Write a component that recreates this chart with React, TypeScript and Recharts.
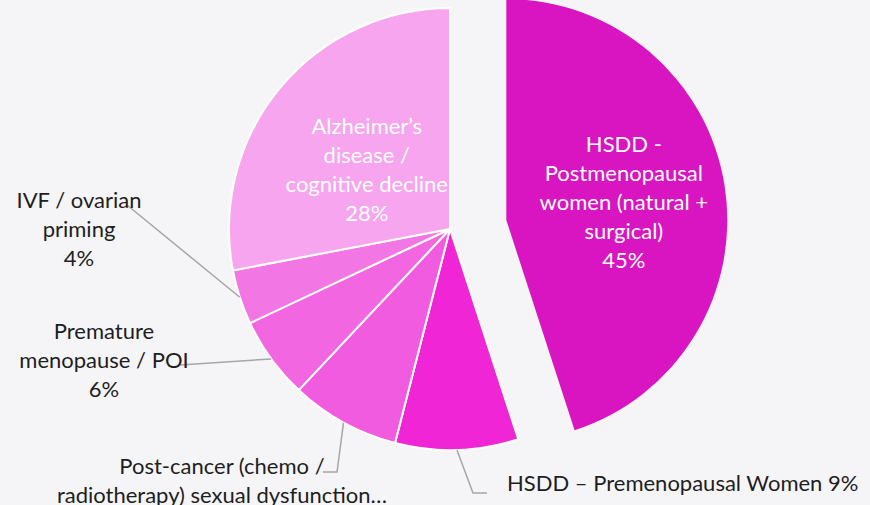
import { PieChart, Pie, Cell } from 'recharts';

const categories = [
  'HSDD - Postmenopausal women (natural + surgical)',
  'HSDD – Premenopausal Women',
  'Post-cancer (chemo / radiotherapy) sexual dysfunction…',
  'Premature menopause / POI',
  'IVF / ovarian priming',
  'Alzheimer’s disease / cognitive decline',
];
const shares = [45, 9, 8, 6, 4, 28];

// how each label wraps, as in the reference
const labelLines = [
  ['HSDD -', 'Postmenopausal', 'women (natural +', 'surgical)'],
  ['HSDD – Premenopausal Women'],
  ['Post-cancer (chemo /', 'radiotherapy) sexual dysfunction…'],
  ['Premature', 'menopause / POI'],
  ['IVF / ovarian', 'priming'],
  ['Alzheimer’s', 'disease /', 'cognitive decline'],
];

const COLORS = ['#D914C1', '#F025D6', '#F05BE0', '#F266E2', '#F277E5', '#F7A5EE'];
const BG = '#F5F5F8';
const FONT = 'Lato, "Open Sans", sans-serif';
const FONT_SIZE = 22;
const LINE_H = 29;
const RADIAN = Math.PI / 180;

const data = categories.map((name, i) => ({ name, value: shares[i] }));

const CX = 450;
const CY = 229;
const R = 221;
const EXPLODE = 57;

// exploded slice offset, along its bisector
const total = shares.reduce((a, b) => a + b, 0);
const firstMid = 90 - (shares[0] / total) * 180;
const offX = EXPLODE * Math.cos(firstMid * RADIAN);
const offY = -EXPLODE * Math.sin(firstMid * RADIAN);

// outside label placement, relative to the pie centre
const outside: Record<number, { pts: [number, number][]; tx: number; ty: number; anchor: 'start' | 'middle'; inline?: boolean }> = {
  1: { pts: [[23, 264], [37, 264]], tx: 57, ty: 253, anchor: 'start', inline: true },
  2: { pts: [[-113, 243], [-127, 243]], tx: -228, ty: 236, anchor: 'middle' },
  3: { pts: [[-270, 136]], tx: -346, ty: 101, anchor: 'middle' },
  4: { pts: [[-323, -24]], tx: -371, ty: -30, anchor: 'middle' },
};

const insideRadius: Record<number, number> = { 0: 119, 5: 108 };
const insideNudge: Record<number, number> = { 0: 0, 5: 9 };

function renderLabel(props: any) {
  const { cx, cy, midAngle, outerRadius, index, percent } = props;
  const pct = `${Math.round(percent * 100)}%`;
  const lines = labelLines[index];

  if (insideRadius[index] !== undefined) {
    const r = insideRadius[index];
    const x = cx + r * Math.cos(-midAngle * RADIAN);
    const all = [...lines, pct];
    const y = cy + r * Math.sin(-midAngle * RADIAN) + insideNudge[index] - ((all.length - 1) * LINE_H) / 2;
    return (
      <text key={`l${index}`} x={x} y={y} fill="#FFFFFF" textAnchor="middle" fontFamily={FONT} fontSize={FONT_SIZE}>
        {all.map((t, i) => (
          <tspan key={i} x={x} y={y + i * LINE_H} dominantBaseline="central">{t}</tspan>
        ))}
      </text>
    );
  }

  const cfg = outside[index];
  if (!cfg) return null;
  const sx = cx + outerRadius * Math.cos(-midAngle * RADIAN);
  const sy = cy + outerRadius * Math.sin(-midAngle * RADIAN);
  const d = `M${sx},${sy}` + cfg.pts.map(([px, py]) => `L${cx + px},${cy + py}`).join('');
  const all = cfg.inline ? [`${lines[0]} ${pct}`] : [...lines, pct];
  const tx = cx + cfg.tx;
  const ty = cy + cfg.ty;
  return (
    <g key={`l${index}`}>
      <path d={d} stroke="#A6A6A6" strokeWidth={1.5} fill="none" />
      <text x={tx} y={ty} fill="#1E1E1E" textAnchor={cfg.anchor} fontFamily={FONT} fontSize={FONT_SIZE}>
        {all.map((t, i) => (
          <tspan key={i} x={tx} y={ty + i * LINE_H} dominantBaseline="central">{t}</tspan>
        ))}
      </text>
    </g>
  );
}

function renderExplodedLabel(props: any) {
  if (props.index !== 0) return null;
  return renderLabel(props);
}

function renderMainLabel(props: any) {
  if (props.index === 0) return null;
  return renderLabel(props);
}

export default function App() {
  return (
    <div style={{ width: 870, height: 505, background: BG }}>
      <style>{`body{margin:0}`}</style>
      <PieChart width={870} height={505} margin={{ top: 0, right: 0, bottom: 0, left: 0 }}>
        <Pie
          data={data}
          dataKey="value"
          nameKey="name"
          cx={CX}
          cy={CY}
          outerRadius={R}
          startAngle={90}
          endAngle={-270}
          stroke="#FFFFFF"
          strokeWidth={2}
          label={renderMainLabel}
          labelLine={false}
          isAnimationActive={false}
        >
          {data.map((d, i) => (
            <Cell key={d.name} fill={i === 0 ? 'none' : COLORS[i]} stroke={i === 0 ? 'none' : '#FFFFFF'} />
          ))}
        </Pie>
        <Pie
          data={data}
          dataKey="value"
          nameKey="name"
          cx={CX + offX}
          cy={CY + offY}
          outerRadius={R}
          startAngle={90}
          endAngle={-270}
          label={renderExplodedLabel}
          labelLine={false}
          isAnimationActive={false}
        >
          {data.map((d, i) => (
            <Cell key={d.name} fill={i === 0 ? COLORS[0] : 'none'} stroke="none" />
          ))}
        </Pie>
      </PieChart>
    </div>
  );
}
